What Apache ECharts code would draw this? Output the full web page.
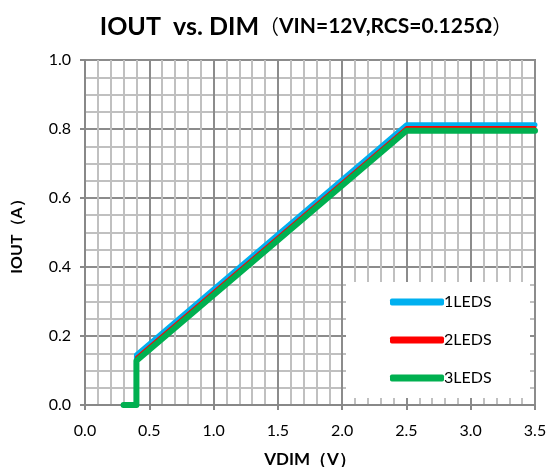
<!DOCTYPE html>
<html>
<head>
<meta charset="utf-8">
<script src="https://cdn.jsdelivr.net/npm/echarts@6/dist/echarts.min.js"></script>
<style>html,body{margin:0;padding:0;background:#fff;}#c{width:547px;height:467px;}</style>
</head>
<body>
<div id="c"></div>
<script>
const seriesNames = ['1LEDS', '2LEDS', '3LEDS'];
const vdim = [0.3, 0.4, 0.4, 2.5, 3.5];
const iout1 = [0, 0, 0.145, 0.812, 0.812];
const iout2 = [0, 0, 0.138, 0.804, 0.804];
const iout3 = [0, 0, 0.128, 0.795, 0.795];
const xTicks = [0, 0.5, 1.0, 1.5, 2.0, 2.5, 3.0, 3.5];
const yTicks = [0, 0.2, 0.4, 0.6, 0.8, 1.0];
const colors = ['#00B0F0', '#FF0000', '#00B050'];
const widths = [5, 3, 6];

const allY = [iout1, iout2, iout3];
const font = 'Lato, "Liberation Sans", sans-serif';
const cjk = '"Noto Sans CJK SC", sans-serif';

const chart = echarts.init(document.getElementById('c'), null, {renderer: 'canvas'});
chart.setOption({
  animation: false,
  backgroundColor: '#fff',
  title: {
    text: '{a|IOUT  vs. DIM}{p|（}{b|VIN=12V,RCS=0.125Ω}{p|）}',
    left: 301, top: 9, textAlign: 'center',
    textStyle: {
      rich: {
        a: {fontFamily: font, fontWeight: 'bold', fontSize: 25, color: '#000'},
        p: {fontFamily: cjk, fontWeight: 'normal', fontSize: 20, color: '#000'},
        b: {fontFamily: font, fontWeight: 'bold', fontSize: 21, color: '#000'}
      }
    }
  },
  grid: {left: 85, right: 12, top: 60, bottom: 62, containLabel: false, outerBoundsMode: 'none',
         show: true, borderColor: '#888', borderWidth: 2, backgroundColor: 'transparent'},
  xAxis: {
    type: 'value', min: xTicks[0], max: xTicks[xTicks.length - 1], interval: 0.5,
    name: 'VDIM（V）', nameLocation: 'middle', nameGap: 46,
    nameTextStyle: {fontFamily: font, fontWeight: 'bold', fontSize: 17, color: '#000'},
    axisLine: {show: true, lineStyle: {color: '#888', width: 2}},
    axisTick: {show: true, length: 5, inside: false, lineStyle: {color: '#888', width: 2}},
    minorTick: {show: true, splitNumber: 5, length: 0},
    splitLine: {show: true, lineStyle: {color: '#8c8c8c', width: 2}},
    minorSplitLine: {show: true, lineStyle: {color: '#c0c0c0', width: 2}},
    axisLabel: {fontFamily: font, fontSize: 16, color: '#000', margin: 18, formatter: v => v.toFixed(1)}
  },
  yAxis: {
    type: 'value', min: yTicks[0], max: yTicks[yTicks.length - 1], interval: 0.2,
    name: 'IOUT（A）', nameLocation: 'middle', nameGap: 60, nameRotate: 90,
    nameTextStyle: {fontFamily: font, fontWeight: 'bold', fontSize: 16, color: '#000'},
    axisLine: {show: true, lineStyle: {color: '#888', width: 2}},
    axisTick: {show: true, length: 5, lineStyle: {color: '#888', width: 2}},
    minorTick: {show: true, splitNumber: 4, length: 0},
    splitLine: {show: true, lineStyle: {color: '#8c8c8c', width: 2}},
    minorSplitLine: {show: true, lineStyle: {color: '#c0c0c0', width: 2}},
    axisLabel: {fontFamily: font, fontSize: 16, color: '#000', margin: 14, formatter: v => v.toFixed(1)}
  },
  graphic: [{
    type: 'rect', shape: {x: 346, y: 282, width: 184, height: 116},
    style: {fill: '#fff', stroke: null}, z: 5
  }],
  legend: {
    orient: 'vertical', left: 385, top: 289, itemGap: 22,
    itemWidth: 54, itemHeight: 7, icon: 'roundRect',
    textStyle: {fontFamily: font, fontSize: 16, color: '#000', padding: [0, 0, 0, -5]},
    data: seriesNames, z: 10
  },
  series: seriesNames.map((n, i) => ({
    name: n, type: 'line', showSymbol: false, symbol: 'none',
    data: vdim.map((x, j) => [x, allY[i][j]]),
    lineStyle: {color: colors[i], width: widths[i], join: 'round', cap: 'round'},
    itemStyle: {color: colors[i]},
    z: 3 + i
  }))
});
</script>
</body>
</html>
